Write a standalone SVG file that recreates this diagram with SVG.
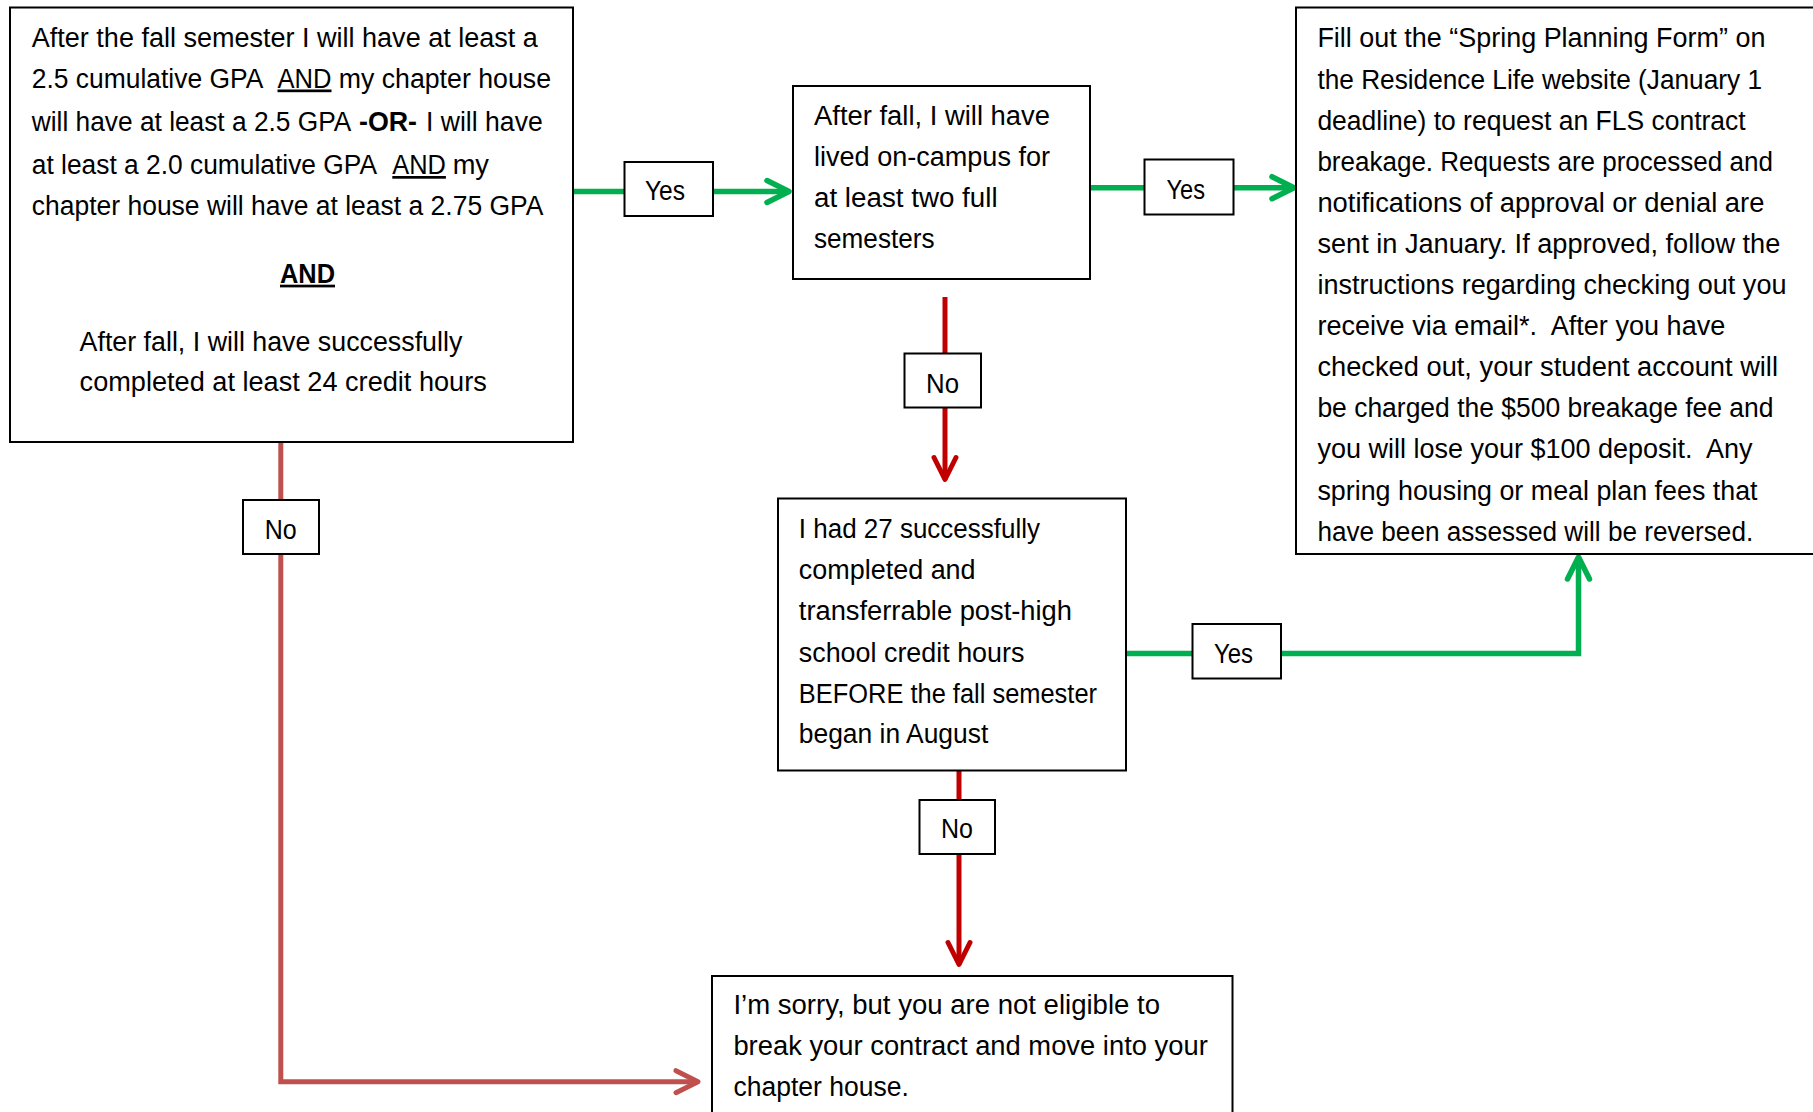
<svg xmlns="http://www.w3.org/2000/svg" width="1813" height="1112" viewBox="0 0 1813 1112">
<style>
.box{fill:#fff;stroke:#000;stroke-width:2}
.lbl{fill:#fff;stroke:#000;stroke-width:2}
.t{font-family:"Liberation Sans",Arial,sans-serif;font-size:27px;fill:#000}
.b{font-weight:bold}
.u{text-decoration:underline}
.g{fill:none;stroke:#00B050;stroke-width:5.5}
.r{fill:none;stroke:#C00000;stroke-width:5}
.rl{fill:none;stroke:#C0504D;stroke-width:5}
</style>
<defs>
<marker id="ag" markerUnits="userSpaceOnUse" viewBox="-30 -16 36 32" refX="0" refY="0" markerWidth="36" markerHeight="32" orient="auto" overflow="visible"><path d="M-22,-11 L0,0 L-22,11" fill="none" stroke="#00B050" stroke-width="5.5" stroke-linecap="round" stroke-linejoin="round"/></marker>
<marker id="ar" markerUnits="userSpaceOnUse" viewBox="-30 -16 36 32" refX="0" refY="0" markerWidth="36" markerHeight="32" orient="auto" overflow="visible"><path d="M-22,-11 L0,0 L-22,11" fill="none" stroke="#C00000" stroke-width="5" stroke-linecap="round" stroke-linejoin="round"/></marker>
<marker id="arl" markerUnits="userSpaceOnUse" viewBox="-30 -16 36 32" refX="0" refY="0" markerWidth="36" markerHeight="32" orient="auto" overflow="visible"><path d="M-22,-11 L0,0 L-22,11" fill="none" stroke="#C0504D" stroke-width="5" stroke-linecap="round" stroke-linejoin="round"/></marker>
</defs>
<rect width="1813" height="1112" fill="#fff"/>

<g id="connectors">
<path class="g" d="M573,191.5 H789" marker-end="url(#ag)"/>
<path class="g" d="M1090,187.7 H1294" marker-end="url(#ag)"/>
<path class="g" d="M1126,653.5 H1578.5 V557" marker-end="url(#ag)"/>
<path class="r" d="M945,297 V479.5" marker-end="url(#ar)"/>
<path class="r" d="M959,771 V964.5" marker-end="url(#ar)"/>
<path class="rl" d="M280.8,443 V1081.7 H698" marker-end="url(#arl)"/>
</g>

<g id="node-gpa">
<rect class="box" x="10" y="7.5" width="563" height="434.5"/>
<text class="t" x="31.8" y="46.7" textLength="506" lengthAdjust="spacingAndGlyphs">After the fall semester I will have at least a</text>
<text class="t" x="31.8" y="87.5" textLength="231.5" lengthAdjust="spacingAndGlyphs">2.5 cumulative GPA</text>
<text class="t u" x="277.5" y="87.5" textLength="54" lengthAdjust="spacingAndGlyphs">AND</text>
<text class="t" x="338.7" y="87.5" textLength="212.3" lengthAdjust="spacingAndGlyphs">my chapter house</text>
<text class="t" x="31.8" y="130.7" textLength="319.5" lengthAdjust="spacingAndGlyphs">will have at least a 2.5 GPA</text>
<text class="t b" x="359" y="130.7" textLength="58" lengthAdjust="spacingAndGlyphs">-OR-</text>
<text class="t" x="426" y="130.7" textLength="116.7" lengthAdjust="spacingAndGlyphs">I will have</text>
<text class="t" x="31.8" y="174" textLength="345.2" lengthAdjust="spacingAndGlyphs">at least a 2.0 cumulative GPA</text>
<text class="t u" x="392.3" y="174" textLength="53.6" lengthAdjust="spacingAndGlyphs">AND</text>
<text class="t" x="452.7" y="174" textLength="36.3" lengthAdjust="spacingAndGlyphs">my</text>
<text class="t" x="31.8" y="215" textLength="511.6" lengthAdjust="spacingAndGlyphs">chapter house will have at least a 2.75 GPA</text>
<text class="t b u" x="280" y="282.7" textLength="55" lengthAdjust="spacingAndGlyphs">AND</text>
<text class="t" x="79.6" y="350.7" textLength="382.7" lengthAdjust="spacingAndGlyphs">After fall, I will have successfully</text>
<text class="t" x="79.6" y="390.7" textLength="407.2" lengthAdjust="spacingAndGlyphs">completed at least 24 credit hours</text>
</g>

<g id="node-oncampus">
<rect class="box" x="793" y="86" width="297" height="193"/>
<text class="t" x="814" y="125" textLength="236" lengthAdjust="spacingAndGlyphs">After fall, I will have</text>
<text class="t" x="814" y="166" textLength="236" lengthAdjust="spacingAndGlyphs">lived on-campus for</text>
<text class="t" x="814" y="206.7" textLength="183.6" lengthAdjust="spacingAndGlyphs">at least two full</text>
<text class="t" x="814" y="248" textLength="120.5" lengthAdjust="spacingAndGlyphs">semesters</text>
</g>

<g id="node-form">
<rect class="box" x="1296" y="7.5" width="530" height="546.5"/>
<text class="t" x="1317.4" y="47.4" textLength="448" lengthAdjust="spacingAndGlyphs">Fill out the “Spring Planning Form” on</text>
<text class="t" x="1317.4" y="88.5" textLength="444.6" lengthAdjust="spacingAndGlyphs">the Residence Life website (January 1</text>
<text class="t" x="1317.4" y="129.6" textLength="428.3" lengthAdjust="spacingAndGlyphs">deadline) to request an FLS contract</text>
<text class="t" x="1317.4" y="170.7" textLength="455.5" lengthAdjust="spacingAndGlyphs">breakage. Requests are processed and</text>
<text class="t" x="1317.4" y="211.8" textLength="447" lengthAdjust="spacingAndGlyphs">notifications of approval or denial are</text>
<text class="t" x="1317.4" y="252.9" textLength="462.9" lengthAdjust="spacingAndGlyphs">sent in January. If approved, follow the</text>
<text class="t" x="1317.4" y="294" textLength="469.1" lengthAdjust="spacingAndGlyphs">instructions regarding checking out you</text>
<text class="t" x="1317.4" y="335.1" textLength="407.9" lengthAdjust="spacingAndGlyphs" xml:space="preserve">receive via email*.  After you have</text>
<text class="t" x="1317.4" y="376.2" textLength="460.6" lengthAdjust="spacingAndGlyphs">checked out, your student account will</text>
<text class="t" x="1317.4" y="417.3" textLength="456.1" lengthAdjust="spacingAndGlyphs">be charged the $500 breakage fee and</text>
<text class="t" x="1317.4" y="458.4" textLength="435.1" lengthAdjust="spacingAndGlyphs" xml:space="preserve">you will lose your $100 deposit.  Any</text>
<text class="t" x="1317.4" y="499.5" textLength="440.2" lengthAdjust="spacingAndGlyphs">spring housing or meal plan fees that</text>
<text class="t" x="1317.4" y="540.6" textLength="435.8" lengthAdjust="spacingAndGlyphs">have been assessed will be reversed.</text>
</g>

<g id="node-credits">
<rect class="box" x="778" y="498.5" width="348" height="272"/>
<text class="t" x="798.8" y="538.3" textLength="241.2" lengthAdjust="spacingAndGlyphs">I had 27 successfully</text>
<text class="t" x="798.8" y="579.3" textLength="176.8" lengthAdjust="spacingAndGlyphs">completed and</text>
<text class="t" x="798.8" y="620" textLength="273.2" lengthAdjust="spacingAndGlyphs">transferrable post-high</text>
<text class="t" x="798.8" y="661.7" textLength="225.6" lengthAdjust="spacingAndGlyphs">school credit hours</text>
<text class="t" x="798.8" y="702.7" textLength="298.2" lengthAdjust="spacingAndGlyphs">BEFORE the fall semester</text>
<text class="t" x="798.8" y="743.3" textLength="189.5" lengthAdjust="spacingAndGlyphs">began in August</text>
</g>

<g id="node-sorry">
<rect class="box" x="712" y="976" width="520.5" height="150"/>
<text class="t" x="733.4" y="1014.4" textLength="426.6" lengthAdjust="spacingAndGlyphs">I’m sorry, but you are not eligible to</text>
<text class="t" x="733.4" y="1055" textLength="474.4" lengthAdjust="spacingAndGlyphs">break your contract and move into your</text>
<text class="t" x="733.4" y="1095.8" textLength="175.4" lengthAdjust="spacingAndGlyphs">chapter house.</text>
</g>

<g id="labels">
<g id="label-yes-1"><rect class="lbl" x="624.5" y="162" width="88.5" height="54"/><text class="t" x="645" y="200" textLength="40" lengthAdjust="spacingAndGlyphs">Yes</text></g>
<g id="label-yes-2"><rect class="lbl" x="1144.5" y="159.5" width="89" height="55"/><text class="t" x="1166.5" y="198.5" textLength="38.5" lengthAdjust="spacingAndGlyphs">Yes</text></g>
<g id="label-yes-3"><rect class="lbl" x="1192.5" y="624" width="88.5" height="54.5"/><text class="t" x="1214" y="662.7" textLength="39" lengthAdjust="spacingAndGlyphs">Yes</text></g>
<g id="label-no-1"><rect class="lbl" x="904.5" y="353.5" width="76.5" height="54"/><text class="t" x="926" y="392.7" textLength="33" lengthAdjust="spacingAndGlyphs">No</text></g>
<g id="label-no-2"><rect class="lbl" x="919.5" y="800" width="75.5" height="54"/><text class="t" x="941" y="838.3" textLength="32" lengthAdjust="spacingAndGlyphs">No</text></g>
<g id="label-no-3"><rect class="lbl" x="243" y="500" width="76" height="54"/><text class="t" x="264.7" y="538.6" textLength="32" lengthAdjust="spacingAndGlyphs">No</text></g>
</g>
</svg>
